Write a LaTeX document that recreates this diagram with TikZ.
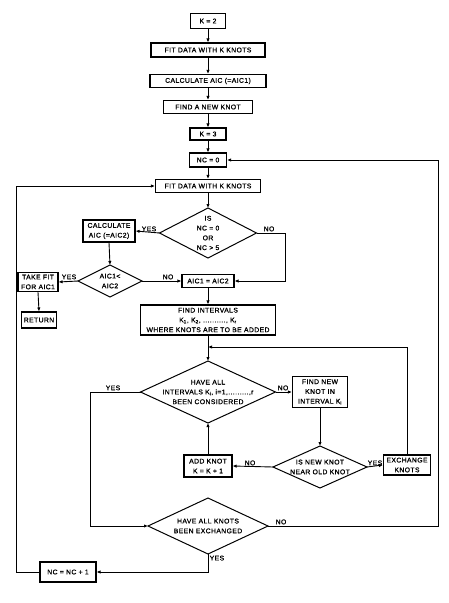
\documentclass[tikz,border=0pt]{standalone}
\usepackage{fontspec}
\setmainfont{Liberation Sans}[LetterSpace=6, FakeBold=1]
\usetikzlibrary{shapes.geometric,arrows.meta}
\begin{document}
\begin{tikzpicture}[x=1pt,y=-1pt,
  fnt/.style={font=\fontsize{6.8}{9.8}\selectfont},
  box/.style={draw, line width=1.1pt, inner sep=1pt, align=center, fnt},
  dia/.style={draw, diamond, line width=1.0pt, inner sep=0pt, outer sep=0pt},
  txt/.style={align=center, fnt, inner sep=0pt},
  lbl/.style={fnt, inner sep=1.5pt},
  con/.style={line width=0.9pt},
  arr/.style={con, -{Latex[length=4pt,width=3.4pt]}}]
\useasboundingbox[fill=white] (0,0) rectangle (449,603);

% main column
\node[box, minimum width=35pt, minimum height=15pt] (k2) at (208,21) {K = 2};
\node[box, minimum width=114pt, minimum height=14pt] (fit1) at (208,50) {FIT DATA WITH K KNOTS};
\node[box, minimum width=116pt, minimum height=13pt] (calc1) at (208,81) {CALCULATE AIC (=AIC1)};
\node[box, minimum width=89pt, minimum height=13pt] (find1) at (208,107) {FIND A NEW KNOT};
\node[box, minimum width=36pt, minimum height=12pt] (k3) at (208,134) {K = 3};
\node[box, minimum width=37pt, minimum height=14pt] (nc0) at (208,160) {NC = 0};
\node[box, minimum width=105pt, minimum height=13pt] (fit2) at (208,186) {FIT DATA WITH K KNOTS};

\node[dia, minimum width=97pt, minimum height=50pt] (d1) at (208,233) {};
\node[txt] at (d1) {IS\\NC = 0\\OR\\NC > 5};

\node[box, minimum width=52pt, minimum height=22pt] (calc2) at (109,231) {CALCULATE\\AIC (=AIC2)};

\node[dia, minimum width=64pt, minimum height=32pt] (d2) at (110,281) {};
\node[txt] at (d2) {AIC1<\\AIC2};

\node[box, minimum width=40pt, minimum height=19pt] (take) at (38,282) {TAKE FIT\\FOR AIC1};
\node[box, minimum width=35pt, minimum height=16pt] (ret) at (39,320) {RETURN};

\node[box, minimum width=52pt, minimum height=13pt] (aic) at (208,281) {AIC1 = AIC2};
\node[box, minimum width=135pt, minimum height=30pt] (fint) at (208,320)
  {FIND INTERVALS\\K\textsubscript{1}, K\textsubscript{2}, .........., K\textsubscript{r}\\WHERE KNOTS ARE TO BE ADDED};

\coordinate (m1) at (208,347);

\node[dia, minimum width=135pt, minimum height=62pt] (d3) at (208,392) {};
\node[txt] at (d3) {HAVE ALL\\INTERVALS K\textsubscript{i}, i=1,.........,r\\BEEN CONSIDERED};

\node[box, minimum width=55pt, minimum height=31pt] (fnew) at (320,392) {FIND NEW\\KNOT IN\\INTERVAL K\textsubscript{i}};

\node[dia, minimum width=94pt, minimum height=42pt] (d4) at (320,467) {};
\node[txt] at (d4) {IS NEW KNOT\\NEAR OLD KNOT};

\node[box, minimum width=48pt, minimum height=22pt] (add) at (208,466) {ADD KNOT\\K = K + 1};
\node[box, minimum width=47pt, minimum height=20pt] (exch) at (407,465) {EXCHANGE\\KNOTS};

\node[dia, minimum width=120pt, minimum height=56pt] (d5) at (208,526) {};
\node[txt] at (d5) {HAVE ALL KNOTS\\BEEN EXCHANGED};

\node[box, minimum width=56pt, minimum height=20pt] (ncinc) at (68,572) {NC = NC + 1};

% helper columns
\coordinate (rx) at (438,0);
\coordinate (lx) at (16,0);
\coordinate (yx) at (90,0);
\coordinate (nx) at (285,0);

% straight connectors
\draw[arr] (k2) -- (fit1);
\draw[arr] (fit1) -- (calc1);
\draw[arr] (calc1) -- (find1);
\draw[arr] (find1) -- (k3);
\draw[arr] (k3) -- (nc0);
\draw[arr] (nc0) -- (fit2);
\draw[arr] (fit2) -- (d1.north);

\draw[arr] (d1.west) -- (calc2.east);
\node[lbl, anchor=south] at (149,233) {YES};
\draw[arr] (d1.east) -- (d1.east -| nx) -- (nx |- aic.east) -- (aic.east);
\node[lbl, anchor=south] at (269,233) {NO};

\draw[arr] (calc2.south) -- (d2.north);
\draw[arr] (d2.west) -- (take.east);
\node[lbl, anchor=south] at (69,281) {YES};
\draw[arr] (d2.east) -- (aic.west);
\node[lbl, anchor=south] at (168,281) {NO};
\draw[arr] (take.south) -- (ret.north);

\draw[arr] (aic.south) -- (fint.north);
\draw[con] (fint.south) -- (m1);
\draw[arr] (m1) -- (d3.north);
\draw[arr] (exch.north) -- (exch.north |- m1) -- (m1);

\draw[arr] (d3.west) -- (d3.west -| yx) -- (yx |- d5.west) -- (d5.west);
\node[lbl, anchor=south] at (113,392) {YES};
\draw[arr] (d3.east) -- (fnew.west);
\node[lbl, anchor=south] at (283,392) {NO};

\draw[arr] (fnew.south) -- (d4.north);
\draw[arr] (d4.west) -- (add.east);
\node[lbl, anchor=south] at (250,467) {NO};
\draw[arr] (d4.east) -- (exch.west);
\node[lbl, anchor=south] at (375,467) {YES};
\draw[arr] (add.north) -- (d3.south);

\draw[arr] (d5.east) -- (d5.east -| rx) -- (rx |- nc0.east) -- (nc0.east);
\node[lbl, anchor=south] at (281,526) {NO};
\draw[arr] (d5.south) -- (d5.south |- ncinc.east) -- (ncinc.east);
\node[lbl, anchor=north west] at (d5.south) {YES};
\draw[arr] (ncinc.west) -- (lx |- ncinc.west) -- (lx |- fit2.west) -- (fit2.west);
\end{tikzpicture}
\end{document}
